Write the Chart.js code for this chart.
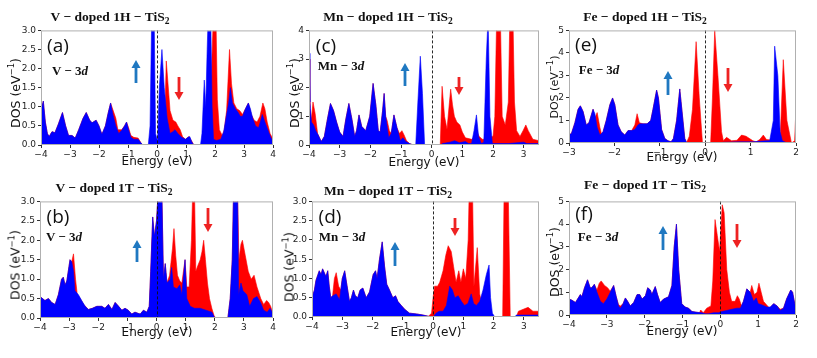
<!DOCTYPE html>
<html><head><meta charset="utf-8">
<script src="https://cdn.jsdelivr.net/npm/chart.js@4.4.1/dist/chart.umd.min.js"></script>
<style>
html,body{margin:0;padding:0;background:#fff;}
#root{position:relative;width:817px;height:358px;overflow:hidden;}
canvas{position:absolute;}
.t{position:absolute;white-space:nowrap;transform:translate(-50%,-50%);line-height:1;}
.title{font:bold 13.5px "Liberation Serif",serif;color:#111;}
.title sub{font-size:9.5px;vertical-align:-3px;line-height:0;}
.plab{font:19px "Open Sans",sans-serif;color:#111;}
.elab{font:bold 13px "Liberation Serif",serif;color:#111;}
.elab i{font-style:italic;}
.ax{font:12px "DejaVu Sans",sans-serif;color:#111;}
.ax sup{font-size:8.5px;line-height:0;}
.dos{font-size:12.5px;}
.dos.sm{font-size:11px;}
.rot{transform:translate(-50%,-50%) rotate(-90deg);}
svg{position:absolute;left:0;top:0;}
</style></head><body><div id="root"></div>
<script>
// ---- DOS data [Energy (eV), DOS (1/eV)] ----
const aUp = [[-4,0.9],[-3.92,1.15],[-3.85,0.6],[-3.78,0.3],[-3.72,0.22],[-3.62,0.35],[-3.52,0.32],[-3.4,0.55],[-3.26,0.85],[-3.15,0.5],[-3.05,0.25],[-2.93,0.25],[-2.82,0.18],[-2.7,0.4],[-2.55,0.7],[-2.44,0.85],[-2.32,0.65],[-2.24,0.58],[-2.1,0.65],[-2.0,0.5],[-1.9,0.28],[-1.78,0.5],[-1.68,0.85],[-1.6,1.1],[-1.52,0.8],[-1.42,0.5],[-1.32,0.3],[-1.22,0.38],[-1.12,0.5],[-1.05,0.6],[-0.98,0.4],[-0.9,0.2],[-0.8,0.15],[-0.65,0.15],[-0.55,0.05],[-0.48,0],[-0.3,0],[-0.24,0.5],[-0.18,3.5],[-0.1,3.5],[-0.05,0.3],[0.02,0.1],[0.08,1.5],[0.17,2.5],[0.25,1.5],[0.35,0.7],[0.45,0.3],[0.55,0.35],[0.62,0.4],[0.72,0.3],[0.85,0.2],[0.98,0.15],[1.07,0.2],[1.13,0.22],[1.2,0.08],[1.27,0],[1.5,0],[1.55,0.3],[1.63,1.7],[1.68,1.0],[1.73,2.5],[1.77,3.5],[1.85,3.5],[1.9,1.0],[1.95,0.15],[2.05,0.12],[2.2,0.15],[2.3,0.35],[2.4,0.8],[2.47,1.1],[2.53,1.5],[2.6,1.1],[2.7,0.95],[2.8,0.85],[2.87,0.75],[2.95,0.75],[3.05,0.95],[3.15,1.1],[3.22,0.95],[3.3,0.7],[3.4,0.5],[3.5,0.45],[3.58,0.65],[3.63,0.8],[3.72,0.6],[3.82,0.4],[3.92,0.2],[4.0,0.1]];
const aDn = [[-4,0.9],[-3.92,1.15],[-3.85,0.6],[-3.78,0.3],[-3.72,0.22],[-3.62,0.35],[-3.52,0.32],[-3.4,0.55],[-3.26,0.85],[-3.15,0.5],[-3.05,0.25],[-2.93,0.25],[-2.82,0.18],[-2.7,0.4],[-2.55,0.7],[-2.44,0.85],[-2.32,0.65],[-2.24,0.58],[-2.1,0.65],[-2.0,0.5],[-1.9,0.28],[-1.78,0.5],[-1.68,0.85],[-1.6,1.1],[-1.52,0.92],[-1.42,0.7],[-1.35,0.4],[-1.22,0.4],[-1.12,0.5],[-1.05,0.6],[-0.98,0.45],[-0.9,0.25],[-0.8,0.2],[-0.65,0.18],[-0.55,0.05],[-0.48,0],[0.2,0],[0.26,0.5],[0.32,2.2],[0.38,1.6],[0.45,0.9],[0.55,0.65],[0.65,0.6],[0.72,0.5],[0.8,0.4],[0.88,0.22],[0.98,0.15],[1.1,0.22],[1.2,0.1],[1.27,0],[1.55,0],[1.65,0.3],[1.78,0.8],[1.88,2.0],[1.95,3.5],[2.03,3.5],[2.08,1.2],[2.15,0.4],[2.25,0.25],[2.32,0.4],[2.4,0.9],[2.5,2.5],[2.57,1.6],[2.65,1.1],[2.75,0.95],[2.85,0.9],[2.95,0.8],[3.05,0.95],[3.15,1.1],[3.25,0.8],[3.35,0.65],[3.45,0.6],[3.55,0.75],[3.65,1.1],[3.72,0.95],[3.8,0.6],[3.9,0.3],[4.0,0.15]];
const bUp = [[-4,0.55],[-3.83,0.45],[-3.71,0.5],[-3.6,0.4],[-3.48,0.35],[-3.37,0.6],[-3.26,1.0],[-3.2,1.05],[-3.14,0.85],[-3.08,0.95],[-2.97,1.5],[-2.91,1.45],[-2.85,1.2],[-2.8,0.7],[-2.68,0.6],[-2.57,0.45],[-2.45,0.3],[-2.34,0.22],[-2.2,0.25],[-2.05,0.3],[-1.88,0.3],[-1.77,0.25],[-1.65,0.35],[-1.53,0.22],[-1.42,0.4],[-1.3,0.3],[-1.19,0.2],[-1.08,0.25],[-0.97,0.2],[-0.85,0.1],[-0.74,0.15],[-0.56,0.1],[-0.45,0.2],[-0.33,0.15],[-0.25,0.3],[-0.2,1.2],[-0.13,2.6],[-0.07,2.1],[0.0,2.5],[0.07,3.4],[0.18,3.4],[0.24,1.0],[0.3,1.4],[0.36,0.9],[0.47,1.0],[0.52,1.3],[0.58,0.8],[0.7,0.75],[0.8,0.85],[0.87,0.6],[0.98,1.5],[1.04,0.5],[1.16,0.3],[1.3,0.25],[1.5,0.25],[1.7,0.2],[1.9,0.15],[2.0,0],[2.45,0],[2.53,0.5],[2.6,1.5],[2.65,3.4],[2.78,3.4],[2.82,0.6],[2.9,0.9],[2.97,0.7],[3.1,0.6],[3.2,0.3],[3.33,0.5],[3.45,0.55],[3.57,0.4],[3.68,0.2],[3.8,0.15],[3.9,0.25],[4.0,0.1]];
const bDn = [[-4,0.55],[-3.83,0.45],[-3.71,0.5],[-3.6,0.4],[-3.48,0.35],[-3.37,0.6],[-3.26,1.0],[-3.2,1.05],[-3.14,0.85],[-3.08,0.95],[-2.97,1.5],[-2.91,1.45],[-2.85,1.65],[-2.78,1.0],[-2.72,0.6],[-2.62,0.5],[-2.5,0.35],[-2.34,0.22],[-2.2,0.25],[-2.05,0.3],[-1.88,0.3],[-1.77,0.25],[-1.65,0.35],[-1.53,0.22],[-1.42,0.4],[-1.3,0.3],[-1.19,0.2],[-1.08,0.25],[-0.97,0.2],[-0.85,0.1],[-0.74,0.15],[-0.56,0.1],[-0.45,0.2],[-0.33,0.15],[-0.25,0.3],[-0.2,1.2],[-0.13,2.6],[-0.07,2.1],[0.0,2.5],[0.07,3.4],[0.18,3.4],[0.24,1.0],[0.3,1.4],[0.36,0.9],[0.45,1.1],[0.55,1.8],[0.6,2.3],[0.66,1.6],[0.72,1.1],[0.8,0.95],[0.87,0.9],[0.98,1.5],[1.04,0.8],[1.12,0.8],[1.2,2.0],[1.25,3.5],[1.3,3.5],[1.35,1.2],[1.42,1.35],[1.5,1.5],[1.56,1.7],[1.62,2.0],[1.68,1.5],[1.75,0.9],[1.82,0.5],[1.9,0.25],[1.98,0.05],[2.05,0],[2.45,0],[2.53,0.5],[2.6,1.5],[2.65,3.4],[2.78,3.4],[2.83,1.5],[2.9,1.9],[2.95,2.0],[3.05,1.6],[3.15,1.2],[3.25,1.0],[3.35,1.1],[3.45,0.8],[3.58,0.5],[3.68,0.35],[3.78,0.45],[3.85,0.4],[3.92,0.3],[4.0,0.1]];
const cUp = [[-4,3.2],[-3.97,1.5],[-3.92,0.8],[-3.85,0.7],[-3.78,0.5],[-3.7,0.35],[-3.6,0.12],[-3.5,0.3],[-3.4,0.9],[-3.3,1.45],[-3.2,1.2],[-3.1,0.8],[-3.0,0.45],[-2.89,0.3],[-2.8,0.9],[-2.7,1.45],[-2.6,0.9],[-2.51,0.3],[-2.45,0.5],[-2.37,1.05],[-2.28,0.65],[-2.15,0.5],[-2.02,1.0],[-1.91,2.15],[-1.82,1.4],[-1.74,0.5],[-1.68,0.45],[-1.6,1.2],[-1.55,1.8],[-1.5,1.0],[-1.4,0.25],[-1.32,0.4],[-1.23,1.05],[-1.13,0.6],[-1.02,0.15],[-0.94,0.25],[-0.84,0.12],[-0.72,0.05],[-0.6,0],[-0.52,0],[-0.45,1.5],[-0.37,3.1],[-0.3,1.8],[-0.23,0],[0.3,0],[0.35,0.05],[0.6,0.1],[0.75,0.15],[0.9,0.08],[1.1,0.12],[1.2,0.05],[1.3,0.05],[1.38,0.5],[1.46,1.05],[1.53,0.3],[1.62,0.05],[1.7,0.1],[1.78,3.0],[1.84,4.5],[1.9,1.0],[1.98,0.05],[2.5,0.05],[3.0,0.1],[3.1,0.05],[3.5,0.05]];
const cDn = [[-4,3.0],[-3.97,1.3],[-3.92,0.9],[-3.87,1.5],[-3.8,1.1],[-3.72,0.4],[-3.6,0.12],[-3.5,0.3],[-3.4,0.9],[-3.3,1.45],[-3.2,1.2],[-3.1,0.8],[-3.0,0.45],[-2.89,0.3],[-2.8,0.9],[-2.7,1.45],[-2.6,0.9],[-2.51,0.3],[-2.45,0.5],[-2.37,1.05],[-2.28,0.65],[-2.15,0.5],[-2.02,1.0],[-1.91,2.15],[-1.82,1.4],[-1.74,0.5],[-1.68,0.45],[-1.6,1.2],[-1.55,1.8],[-1.5,1.0],[-1.45,0.85],[-1.38,0.5],[-1.32,0.4],[-1.23,1.05],[-1.13,0.6],[-1.05,0.4],[-0.97,0.5],[-0.9,0.35],[-0.82,0.15],[-0.72,0.05],[-0.6,0],[0.28,0],[0.34,2.05],[0.42,1.0],[0.5,0.55],[0.58,1.5],[0.62,1.95],[0.68,1.4],[0.74,1.0],[0.82,0.8],[0.92,0.7],[1.0,0.45],[1.1,0.25],[1.3,0.2],[1.38,0.25],[1.46,0.5],[1.55,0.3],[1.65,0.2],[1.75,0.2],[1.9,0.3],[2.0,0.3],[2.06,1.0],[2.12,4.5],[2.24,4.5],[2.3,1.0],[2.4,0.7],[2.5,1.5],[2.55,4.5],[2.65,4.5],[2.7,1.5],[2.77,0.5],[2.88,0.3],[2.98,0.5],[3.07,0.7],[3.15,0.5],[3.3,0.2],[3.5,0.15]];
const dUp = [[-4,0.5],[-3.92,0.7],[-3.87,0.95],[-3.76,1.2],[-3.7,1.1],[-3.65,1.25],[-3.54,1.05],[-3.48,1.2],[-3.43,0.8],[-3.38,0.5],[-3.32,0.55],[-3.2,0.6],[-3.09,0.45],[-3.0,1.0],[-2.92,1.2],[-2.85,0.85],[-2.76,0.4],[-2.7,0.5],[-2.63,0.7],[-2.57,0.55],[-2.49,0.5],[-2.41,0.7],[-2.32,0.75],[-2.21,0.5],[-2.1,0.65],[-1.98,1.1],[-1.9,1.2],[-1.85,1.0],[-1.77,1.5],[-1.68,1.95],[-1.6,1.3],[-1.53,0.85],[-1.44,0.7],[-1.33,0.5],[-1.24,0.55],[-1.16,0.4],[-1.05,0.3],[-0.94,0.2],[-0.78,0.1],[-0.55,0.08],[-0.33,0.05],[-0.16,0.02],[0,0],[0.1,0.1],[0.2,0.15],[0.33,0.15],[0.44,0.3],[0.55,0.8],[0.64,0.7],[0.72,0.5],[0.83,0.55],[0.94,0.4],[1.04,0.3],[1.15,0.35],[1.26,0.6],[1.34,0.35],[1.43,0.3],[1.54,0.4],[1.65,0.7],[1.76,1.1],[1.85,1.35],[1.9,0.5],[1.96,0.1],[2.04,0],[2.7,0],[2.75,0.05],[3.5,0.05]];
const dDn = [[-4,0.5],[-3.92,0.7],[-3.87,0.95],[-3.76,1.2],[-3.7,1.1],[-3.65,1.25],[-3.54,1.05],[-3.48,1.2],[-3.43,0.8],[-3.38,0.5],[-3.32,0.55],[-3.26,1.0],[-3.2,1.15],[-3.12,0.8],[-3.05,0.7],[-3.0,1.0],[-2.92,1.2],[-2.85,0.85],[-2.8,0.6],[-2.76,0.4],[-2.7,0.5],[-2.63,0.7],[-2.57,0.55],[-2.49,0.5],[-2.41,0.7],[-2.32,0.75],[-2.21,0.5],[-2.1,0.65],[-1.98,1.1],[-1.9,1.2],[-1.85,1.0],[-1.77,1.5],[-1.68,1.95],[-1.6,1.3],[-1.53,0.85],[-1.44,0.7],[-1.33,0.5],[-1.24,0.55],[-1.16,0.4],[-1.05,0.3],[-0.94,0.2],[-0.78,0.1],[-0.55,0.08],[-0.33,0.05],[-0.15,0.02],[-0.05,0.1],[0.0,0.5],[0.05,0.8],[0.15,0.8],[0.22,0.9],[0.33,1.2],[0.42,1.6],[0.5,1.85],[0.6,1.7],[0.68,1.3],[0.76,0.9],[0.85,1.2],[0.92,0.9],[1.0,1.25],[1.08,1.0],[1.16,2.0],[1.2,3.5],[1.3,3.5],[1.35,0.8],[1.46,1.8],[1.54,0.6],[1.62,0.3],[1.7,0.2],[1.87,0.1],[2.0,0],[2.3,0],[2.35,3.5],[2.48,3.5],[2.55,0],[2.75,0],[2.82,0.15],[2.98,0.2],[3.14,0.25],[3.3,0.15],[3.5,0.15]];
const eUp = [[-3,0.4],[-2.95,0.4],[-2.87,0.9],[-2.8,1.5],[-2.75,1.65],[-2.69,1.4],[-2.62,0.8],[-2.56,0.9],[-2.47,1.5],[-2.43,1.3],[-2.38,0.7],[-2.32,0.35],[-2.25,0.5],[-2.18,1.0],[-2.1,1.7],[-2.04,2.0],[-1.99,1.7],[-1.92,0.8],[-1.85,0.5],[-1.77,0.35],[-1.7,0.55],[-1.62,0.55],[-1.55,0.6],[-1.48,0.8],[-1.44,0.85],[-1.37,0.85],[-1.28,0.85],[-1.2,1.0],[-1.15,1.5],[-1.07,2.35],[-1.03,2.0],[-0.96,0.6],[-0.89,0.2],[-0.82,0.1],[-0.75,0.05],[-0.7,0.2],[-0.63,1.0],[-0.56,2.4],[-0.5,1.2],[-0.45,0.2],[-0.41,0.02],[-0.35,0],[0.35,0],[0.4,0.03],[0.76,0.05],[1.05,0.05],[1.35,0.1],[1.42,0.1],[1.5,1.0],[1.53,4.3],[1.6,3.0],[1.65,0.5],[1.7,0.1],[1.8,0],[2.0,0]];
const eDn = [[-3,0.4],[-2.95,0.4],[-2.87,0.9],[-2.8,1.5],[-2.75,1.65],[-2.69,1.4],[-2.62,0.8],[-2.56,0.9],[-2.47,1.5],[-2.43,1.1],[-2.38,1.35],[-2.32,0.7],[-2.28,0.35],[-2.25,0.5],[-2.18,1.0],[-2.1,1.7],[-2.04,2.0],[-1.99,1.7],[-1.92,0.8],[-1.85,0.5],[-1.77,0.35],[-1.7,0.55],[-1.62,0.55],[-1.55,0.8],[-1.5,1.3],[-1.45,0.9],[-1.37,0.85],[-1.28,0.85],[-1.2,1.0],[-1.15,1.5],[-1.07,2.35],[-1.03,2.0],[-0.96,0.6],[-0.89,0.2],[-0.82,0.1],[-0.75,0.05],[-0.7,0.2],[-0.63,1.0],[-0.56,2.4],[-0.5,1.2],[-0.45,0.2],[-0.41,0.02],[-0.35,0.3],[-0.28,1.5],[-0.2,4.5],[-0.13,2.0],[-0.06,0],[0.12,0],[0.16,2.0],[0.21,5.0],[0.28,3.0],[0.36,0.5],[0.4,0.1],[0.47,0.25],[0.58,0.1],[0.7,0.12],[0.8,0.35],[0.9,0.3],[1.05,0.1],[1.12,0.05],[1.2,0.15],[1.28,0.35],[1.35,0.15],[1.65,0.1],[1.72,3.7],[1.8,1.0],[1.9,0],[1.97,0.1],[2.0,1.6]];
const fUp = [[-4,0.7],[-3.92,0.65],[-3.83,0.55],[-3.7,0.9],[-3.66,0.8],[-3.59,1.2],[-3.51,1.55],[-3.44,1.2],[-3.4,1.2],[-3.33,1.35],[-3.26,1.0],[-3.17,0.6],[-3.09,0.5],[-3.0,0.7],[-2.91,1.0],[-2.82,1.3],[-2.75,0.8],[-2.69,0.4],[-2.64,0.3],[-2.57,0.5],[-2.51,0.75],[-2.45,0.6],[-2.38,0.4],[-2.29,0.55],[-2.2,0.9],[-2.13,0.9],[-2.07,0.7],[-1.98,0.85],[-1.92,1.2],[-1.85,1.1],[-1.81,0.9],[-1.72,1.25],[-1.66,0.9],[-1.59,0.55],[-1.5,0.7],[-1.37,0.8],[-1.28,1.3],[-1.22,3.0],[-1.16,4.0],[-1.1,2.0],[-1.02,0.5],[-0.93,0.35],[-0.84,0.3],[-0.75,0.15],[-0.62,0.12],[-0.49,0.1],[-0.4,0.05],[-0.31,0.05],[-0.18,0.1],[-0.05,0.1],[0.04,0.15],[0.17,0.2],[0.3,0.25],[0.44,0.3],[0.53,0.3],[0.61,0.6],[0.7,1.15],[0.79,1.0],[0.88,0.6],[0.95,0.75],[1.0,0.5],[1.09,0.45],[1.23,0.35],[1.32,0.35],[1.41,0.5],[1.5,0.4],[1.58,0.2],[1.67,0.3],[1.75,0.7],[1.86,1.1],[1.91,1.0],[2.0,0.2]];
const fDn = [[-4,0.7],[-3.92,0.65],[-3.83,0.55],[-3.7,0.9],[-3.66,0.8],[-3.59,1.2],[-3.51,1.55],[-3.44,1.2],[-3.4,1.2],[-3.33,1.35],[-3.26,1.1],[-3.2,1.4],[-3.15,1.5],[-3.06,1.3],[-2.98,1.2],[-2.91,1.05],[-2.82,1.3],[-2.75,0.8],[-2.69,0.45],[-2.64,0.4],[-2.57,0.5],[-2.51,0.75],[-2.45,0.6],[-2.38,0.4],[-2.29,0.55],[-2.2,0.9],[-2.13,0.9],[-2.07,0.7],[-1.98,0.85],[-1.92,1.2],[-1.85,1.1],[-1.81,0.9],[-1.72,1.25],[-1.66,0.9],[-1.59,0.55],[-1.5,0.7],[-1.37,0.8],[-1.28,1.3],[-1.22,3.0],[-1.16,4.0],[-1.1,2.0],[-1.02,0.5],[-0.93,0.35],[-0.84,0.3],[-0.75,0.15],[-0.62,0.12],[-0.55,0.1],[-0.52,0.22],[-0.45,0.1],[-0.36,0.3],[-0.25,0.4],[-0.2,1.5],[-0.14,4.2],[-0.08,3.5],[-0.02,2.8],[0.05,4.85],[0.1,4.5],[0.17,2.0],[0.24,1.0],[0.3,0.6],[0.39,0.6],[0.45,0.85],[0.5,0.7],[0.56,0.4],[0.61,0.6],[0.7,1.15],[0.79,1.0],[0.83,1.3],[0.9,0.9],[0.97,1.0],[1.02,1.4],[1.08,1.0],[1.14,0.6],[1.3,0.3],[1.41,0.5],[1.5,0.4],[1.58,0.25],[1.67,0.3],[1.75,0.7],[1.86,1.1],[1.91,1.0],[2.0,0.2]];

// ---- axis ranges ----
const xRanges = {a:[-4,4], b:[-4,4], c:[-4,3.5], d:[-4,3.5], e:[-3,2], f:[-4,2]};
const yMaxes  = {a:3, b:3, c:4, d:3, e:5, f:5};
const ySteps  = {a:0.5, b:0.5, c:1, d:0.5, e:1, f:1};

// ---- texts ----
const titles = {a:['V','1H'], b:['V','1T'], c:['Mn','1H'], d:['Mn','1T'], e:['Fe','1H'], f:['Fe','1T']};

// ---- layout (plot rectangles L,T,R,B in page px) ----
const rects = {a:[41,29,273,145], b:[40,200,273,318], c:[309,29,539,145], d:[312,200,539,317], e:[569,29,796,143], f:[569,200,796,315]};
const ups = {a:aUp,b:bUp,c:cUp,d:dUp,e:eUp,f:fUp};
const dns = {a:aDn,b:bDn,c:cDn,d:dDn,e:eDn,f:fDn};

const root = document.getElementById('root');
const YW=40, PT=6, PR=5, XH=20;

const framePlugin = {
  id:'frame',
  afterDatasetsDraw(chart){
    const {ctx, chartArea:a, scales:{x}} = chart;
    ctx.save();
    const px = Math.round(x.getPixelForValue(0))+0.5;
    ctx.strokeStyle='#111'; ctx.lineWidth=0.9; ctx.setLineDash([3,2]);
    ctx.beginPath(); ctx.moveTo(px, a.top); ctx.lineTo(px, a.bottom); ctx.stroke();
    ctx.setLineDash([]);
    ctx.strokeStyle='#b0b0b0'; ctx.lineWidth=1;
    ctx.strokeRect(a.left+0.5, a.top+0.5, a.width-1, a.height-1);
    ctx.restore();
  }
};
const fmt = (v, dec) => (dec ? v.toFixed(1) : String(Math.round(v))).replace('-', '\u2212');

for (const k of Object.keys(rects)) {
  const [L,T,R,B] = rects[k];
  const cv = document.createElement('canvas');
  const w = R-L+YW+PR, h = B-T+PT+XH;
  cv.width = w; cv.height = h;
  cv.style.left = (L-YW)+'px'; cv.style.top = (T-PT)+'px';
  cv.style.width = w+'px'; cv.style.height = h+'px';
  root.appendChild(cv);
  const dec = ySteps[k] < 1;
  new Chart(cv, {
    type:'line',
    data:{datasets:[
      {data:ups[k].map(p=>({x:p[0],y:p[1]})), borderColor:'#0000ff', backgroundColor:'#0000ff', borderWidth:0.6, fill:'origin', pointRadius:0, tension:0},
      {data:dns[k].map(p=>({x:p[0],y:p[1]})), borderColor:'#ff0000', backgroundColor:'#ff0000', borderWidth:0.6, fill:'origin', pointRadius:0, tension:0}
    ]},
    options:{
      responsive:false, animation:false, devicePixelRatio:1,
      layout:{padding:{top:PT,right:PR,left:0,bottom:0}},
      plugins:{legend:{display:false}, tooltip:{enabled:false}},
      scales:{
        x:{type:'linear', min:xRanges[k][0], max:xRanges[k][1],
           afterFit:s=>{s.height=XH;},
           grid:{drawOnChartArea:false, drawTicks:true, tickLength:3, color:'#333'},
           border:{display:false},
           ticks:{stepSize:1, includeBounds:false, autoSkip:false, maxRotation:0, padding:1,
                  color:'#222', font:{family:'DejaVu Sans', size:9}, callback:v=>fmt(v,false)}},
        y:{type:'linear', min:0, max:yMaxes[k],
           afterFit:s=>{s.width=YW;},
           grid:{drawOnChartArea:false, drawTicks:true, tickLength:3, color:'#333'},
           border:{display:false},
           ticks:{stepSize:ySteps[k], includeBounds:false, padding:2,
                  color:'#222', font:{family:'DejaVu Sans', size:9}, callback:v=>fmt(v,dec)}}
      }
    },
    plugins:[framePlugin]
  });
}

// ---- text overlays ----
function txt(html, cls, cx, cy){
  const d=document.createElement('div'); d.className='t '+cls; d.innerHTML=html;
  d.style.left=cx+'px'; d.style.top=cy+'px'; root.appendChild(d);
}
const titlePos = {a:[110,17], b:[114,188], c:[388,17], d:[388,191], e:[645,17], f:[645,185]};
const panelPos = {a:[58,45], b:[58,216], c:[326,45], d:[330,216], e:[586,44], f:[584,213]};
const elemPos  = {a:[70,71], b:[64,237], c:[341,66], d:[342,237], e:[599,70], f:[598,237]};
const energyPos= {a:[157,161], b:[157,332], c:[424,162], d:[426,332], e:[682,157], f:[682,331]};
const dosPos   = {a:[15,93], b:[15,265], c:[294,93], d:[289,267], e:[554,87], f:[554,262]};
for (const k of Object.keys(rects)) {
  const [el, ph] = titles[k];
  txt(`${el} \u2212 doped ${ph} \u2212 TiS<sub>2</sub>`, 'title', ...titlePos[k]);
  txt(`(${k})`, 'plab', ...panelPos[k]);
  txt(`${el} \u2212 3<i>d</i>`, 'elab', ...elemPos[k]);
  txt('Energy (eV)', 'ax', ...energyPos[k]);
  txt('DOS (eV<sup>\u22121</sup>)', 'ax rot dos' + (k==='e' ? ' sm' : ''), ...dosPos[k]);
}

// ---- spin arrows (x, yTail, yHead) ----
const upArrows = {a:[136,83,60], b:[137,262,240], c:[405,86,63], d:[395,266,242], e:[668,95,71], f:[663,250,226]};
const dnArrows = {a:[179,77,100], b:[208,208,232], c:[459,77,95], d:[455,218,236], e:[728,68,92], f:[737,224,248]};
const NS='http://www.w3.org/2000/svg';
const svg=document.createElementNS(NS,'svg'); svg.setAttribute('width',817); svg.setAttribute('height',358);
root.appendChild(svg);
function arrow([x,y1,y2], color){
  const dir = Math.sign(y2-y1), hl=8, hw=4.5;
  const ln=document.createElementNS(NS,'line');
  ln.setAttribute('x1',x); ln.setAttribute('y1',y1); ln.setAttribute('x2',x); ln.setAttribute('y2',y2-dir*hl*0.8);
  ln.setAttribute('stroke',color); ln.setAttribute('stroke-width',2.8);
  svg.appendChild(ln);
  const p=document.createElementNS(NS,'polygon');
  p.setAttribute('points',`${x},${y2} ${x-hw},${y2-dir*hl} ${x+hw},${y2-dir*hl}`);
  p.setAttribute('fill',color); svg.appendChild(p);
}
for (const k of Object.keys(upArrows)) { arrow(upArrows[k], '#1f78c1'); arrow(dnArrows[k], '#ee2222'); }
</script></body></html>
